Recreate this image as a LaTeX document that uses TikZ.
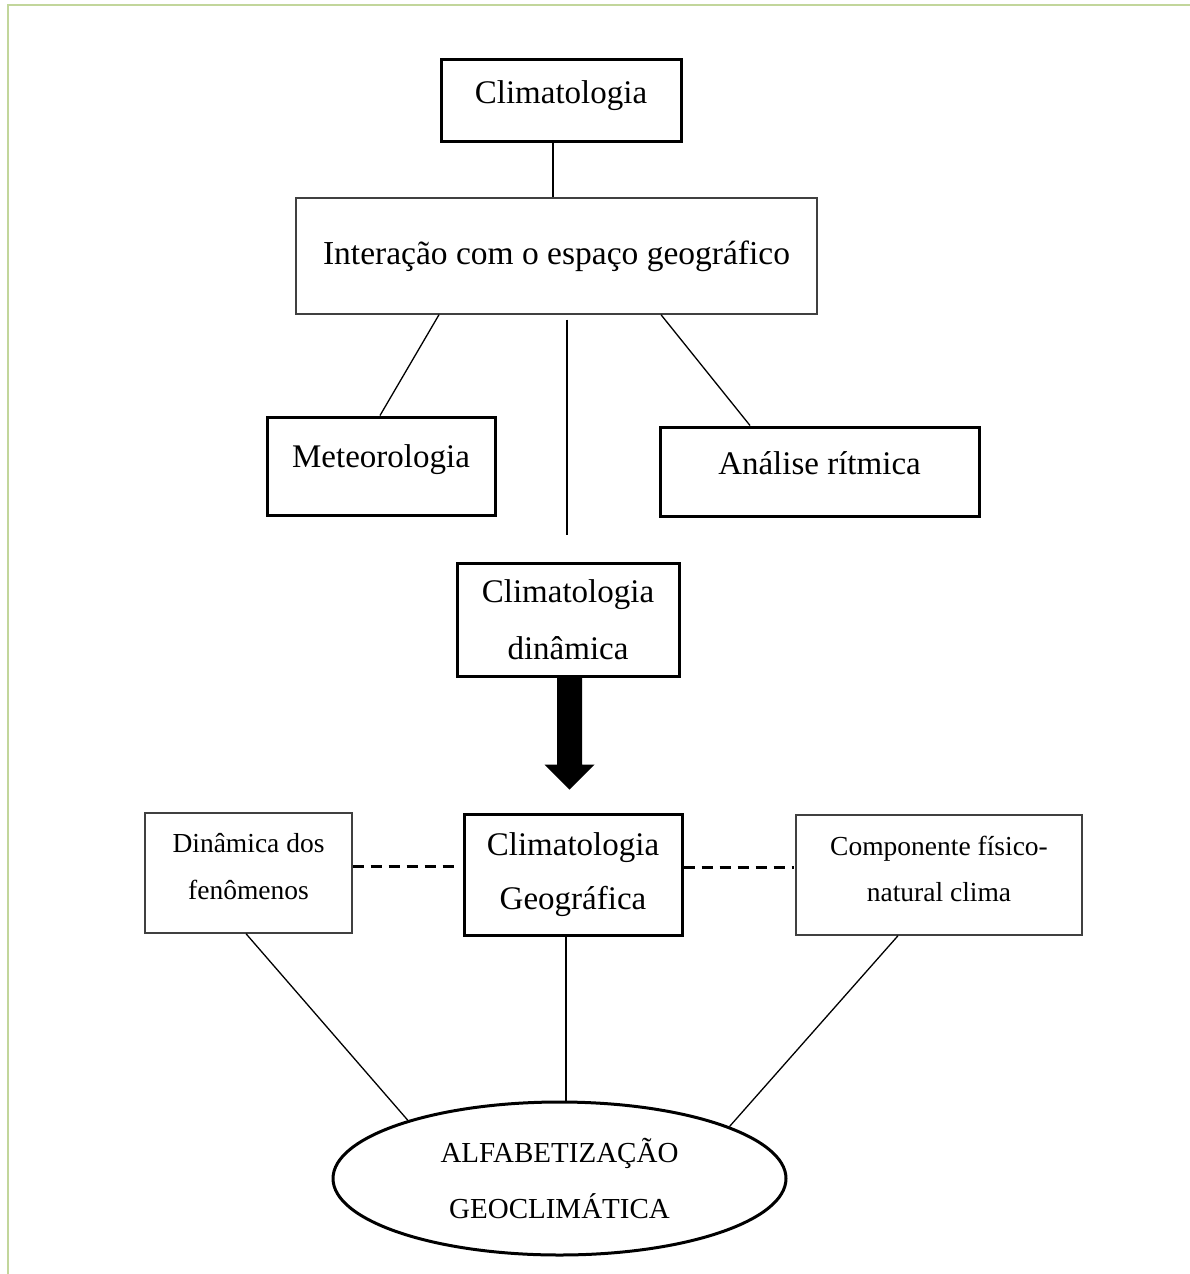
\documentclass[tikz,border=0pt]{standalone}
\usepackage{fontspec}
\setmainfont{Liberation Serif}
\usetikzlibrary{shapes.geometric}
\definecolor{framegreen}{HTML}{C2D69B}
\definecolor{thingray}{HTML}{404040}
\tikzset{
  thickbox/.style={draw=black, line width=3pt, inner sep=0pt, align=center},
  thinbox/.style={draw=thingray, line width=1.4pt, inner sep=0pt, align=center},
  bigtext/.style={font=\fontsize{33}{55}\selectfont},
  smalltext/.style={font=\fontsize{27.5}{46.5}\selectfont},
  link/.style={draw=black, line width=1.3pt},
  dashlink/.style={draw=black, line width=3pt, dash pattern=on 11pt off 7pt},
  pageframe/.style={draw=framegreen, line width=2.8pt}
}
\begin{document}
\begin{tikzpicture}[x=1pt, y=-1pt]
\useasboundingbox (0,0) rectangle (1190,1274);

% page border
\draw[pageframe] (8,1274) -- (8,5) -- (1190,5);

% upper part of the scheme
\node[thickbox, bigtext, minimum width=240pt, minimum height=82pt,
      text height=22pt, text depth=16pt] (clim) at (561,100) {Climatologia};
\node[thinbox, font=\fontsize{33.5}{40}\selectfont,
      minimum width=521pt, minimum height=116pt] (inter) at (556.5,256)
      {Interação com o espaço geográfico};
\node[thickbox, bigtext, minimum width=228pt, minimum height=98pt,
      text height=22pt, text depth=20pt] (meteo) at (381,466) {Meteorologia};
\node[thickbox, bigtext, minimum width=319pt, minimum height=89pt,
      text height=22pt, text depth=17pt] (ritmo) at (819.5,471.5) {Análise rítmica};
\node[thickbox, font=\fontsize{33}{57}\selectfont,
      minimum width=222pt, minimum height=113pt] (dyn) at (568,619.5)
      {Climatologia\\dinâmica};

% lower part of the scheme
\node[thickbox, font=\fontsize{33}{54}\selectfont,
      minimum width=218pt, minimum height=121pt] (geo) at (573,874.5)
      {Climatologia\\Geográfica};
\node[thinbox, smalltext, text depth=13pt,
      minimum width=207pt, minimum height=120pt] (fen) at (248.5,873)
      {Dinâmica dos\\fenômenos};
\node[thinbox, smalltext, text depth=12pt,
      minimum width=286pt, minimum height=120pt] (comp) at (939,875)
      {Componente físico-\\natural clima};
\node[ellipse, draw=black, line width=3pt, inner sep=0pt, align=center,
      font=\fontsize{29}{56}\selectfont,
      minimum width=453pt, minimum height=153pt] (ell) at (559.5,1178.5)
      {ALFABETIZAÇÃO\\GEOCLIMÁTICA};

% connectors of the upper part
\coordinate (climFoot) at ([xshift=-8pt]clim.south);
\draw[link] (climFoot) -- (climFoot |- inter.north);
\draw[link] ([xshift=-117.5pt]inter.south) -- ([xshift=-1pt]meteo.north);
\draw[link] ([xshift=104.5pt]inter.south) -- ([xshift=-69.5pt]ritmo.north);
\coordinate (axisTop) at ([xshift=10.5pt,yshift=-5pt]inter.south);
\coordinate (axisEnd) at ([yshift=27pt]dyn.north -| axisTop);
\draw[link] (axisTop) -- (axisEnd);

% block arrow towards the geographical climatology
\fill[black] ([xshift=1.5pt]dyn.south) ++(-12.5,0) -- ++(0,87) -- ++(-12.5,0)
  -- ++(25,25) -- ++(25,-25) -- ++(-12.5,0) -- ++(0,-87) -- cycle;

% dashed relations
\draw[dashlink] ([yshift=7pt]fen.east) -- ++(105,0);
\draw[dashlink] ([yshift=7pt]geo.east) -- ++(110,0);

% connectors to the ellipse
\draw[link] ([xshift=-2.5pt]fen.south) -- (ell.159.5);
\coordinate (geoFoot) at ([xshift=-7pt]geo.south);
\draw[link] (geoFoot) -- (geoFoot |- ell.north);
\draw[link] ([xshift=-41pt]comp.south) -- (ell.17.4);
\end{tikzpicture}
\end{document}
